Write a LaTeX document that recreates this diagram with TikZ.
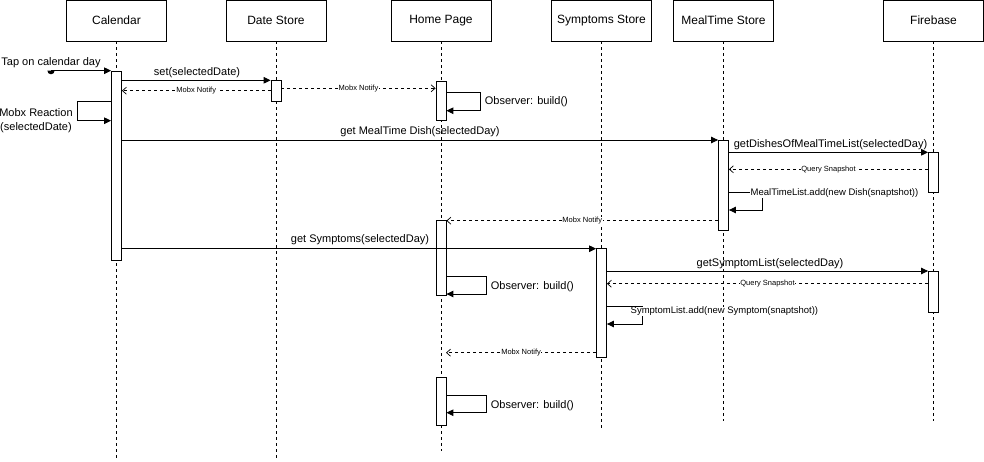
\documentclass[tikz,border=0pt]{standalone}
\usepackage{fontspec}
\setmainfont{Liberation Sans}
\usetikzlibrary{arrows.meta}
\begin{document}
\begin{tikzpicture}[x=1pt,y=-1pt,
  hdr/.style={draw, line width=0.8pt, minimum width=100pt, minimum height=40.5pt, inner sep=0pt, anchor=north, font=\fontsize{12}{14}\selectfont},
  life/.style={line width=0.8pt, dash pattern=on 3pt off 3pt},
  act/.style={draw, fill=white, line width=0.8pt, minimum width=10pt, inner sep=0pt, anchor=north},
  msg/.style={line width=0.9pt, -{Triangle[length=7pt,width=6.5pt]}},
  ret/.style={line width=0.7pt, dash pattern=on 3pt off 3pt, -{Straight Barb[length=4pt,width=7pt]}},
  lbl/.style={inner sep=0pt, font=\fontsize{11}{14}\selectfont},
  addlbl/.style={anchor=west, fill=white, inner sep=0.5pt, font=\fontsize{9.5}{11}\selectfont},
  small/.style={inner sep=0.6pt, fill=white, font=\fontsize{7.5}{9}\selectfont},
]
\useasboundingbox (0,0) rectangle (984,461);
% headers
\node[hdr] (cal) at (116.5,0) {Calendar};
\node[hdr] (ds)  at (276,0) {Date Store};
\node[hdr] (hp)  at (441,0) {Home Page};
\node[hdr] (sp)  at (601.5,0) {Symptoms Store};
\node[hdr] (mt)  at (723.5,0) {MealTime Store};
\node[hdr] (fb)  at (933.5,0) {Firebase};
% lifeline ends
\coordinate (calE) at (116.5,458);
\coordinate (dsE)  at (276,458);
\coordinate (hpE)  at (441,451);
\coordinate (spE)  at (601.5,428);
\coordinate (mtE)  at (723.5,421);
\coordinate (fbE)  at (933.5,421);
\draw[life] (cal.south) -- (calE);
\draw[life] (ds.south) -- (dsE);
\draw[life] (hp.south) -- (hpE);
\draw[life] (sp.south) -- (spE);
\draw[life] (mt.south) -- (mtE);
\draw[life] (fb.south) -- (fbE);
% activations
\node[act, minimum height=189.5pt] (calA) at (116.5,70.7) {};
\node[act, minimum height=20.4pt] (dsA) at (276,80.3) {};
\node[act, minimum height=39.5pt] (hpA1) at (441,80.5) {};
\node[act, minimum height=75pt] (hpA2) at (441,220.3) {};
\node[act, minimum height=48pt] (hpA3) at (441,377.3) {};
\node[act, minimum height=90pt] (mtA) at (723.5,140) {};
\node[act, minimum height=40pt] (fbA1) at (933.5,152.3) {};
\node[act, minimum height=40.7pt] (fbA2) at (933.5,271) {};
\node[act, minimum height=109.5pt] (spA) at (601.5,247.5) {};
% tap
\coordinate (tap) at (51,70.7);
\fill (tap) ++(-3.6,0) arc[start angle=180, end angle=0, radius=3.6] -- cycle;
\draw[msg] (tap) -- (calA.north west);
\node[lbl] (tapL) at (51,62.5) {Tap on calendar day};
% set
\draw[msg] (calA.east |- 0,80.3) -- (dsA.north west);
\node[lbl] (setL) at (197,72.5) {set(selectedDate)};
\draw[ret] (dsA.west |- 0,90.7) -- (calA.east |- 0,90.7) node[small, midway] {Mobx Notify};
\draw[ret] (dsA.east |- 0,88.3) -- (hpA1.west |- 0,88.3) node[small, midway] {Mobx Notify};
% mobx reaction
\coordinate (mr1) at (77,101.7);
\coordinate (mr2) at (77,120.7);
\draw[msg] (calA.west |- mr1) -- (mr1) -- (mr2) -- (calA.west |- mr2);
\node[lbl, align=center] (mrL) at (36,121) {Mobx Reaction\\(selectedDate)};
% observer 1
\coordinate (o1a) at (480.7,92.3);
\coordinate (o1b) at (480.7,110.7);
\draw[msg] (hpA1.east |- o1a) -- (o1a) -- (o1b) -- (hpA1.east |- o1b);
\node[lbl, anchor=west] (o1L) at (484.7,102) {Observer: build()};
% get MealTime Dish
\draw[msg] (calA.east |- 0,140) -- (mtA.north west);
\node[lbl] (gmL) at (420,132) {get MealTime Dish(selectedDay)};
\draw[msg] (mtA.east |- 0,152.3) -- (fbA1.north west);
\node[lbl] (gdL) at (830.5,144.5) {getDishesOfMealTimeList(selectedDay)};
\draw[ret] (fbA1.west |- 0,169.3) -- (mtA.east |- 0,169.3) node[small, midway] {Query Snapshot};
% MealTimeList add
\coordinate (ma1) at (762.7,192.7);
\coordinate (ma2) at (762.7,210);
\draw[msg] (mtA.east |- ma1) -- (ma1) -- (ma2) -- (mtA.east |- ma2);
\node[addlbl] (maL) at (750,193.5) {MealTimeList.add(new Dish(snaptshot))};
\draw[ret] (mtA.west |- 0,220.7) -- (hpA2.east |- 0,220.7) node[small, midway] {Mobx Notify};
% get Symptoms
\draw[msg] (calA.east |- 0,248.7) -- (spA.west |- 0,248.7);
\node[lbl] (gsL) at (360,240) {get Symptoms(selectedDay)};
% observer 2
\coordinate (o2a) at (486.7,276.3);
\coordinate (o2b) at (486.7,294);
\draw[msg] (hpA2.east |- o2a) -- (o2a) -- (o2b) -- (hpA2.east |- o2b);
\node[lbl, anchor=west] (o2L) at (490.7,287) {Observer: build()};
% getSymptomList
\draw[msg] (spA.east |- 0,271) -- (fbA2.north west);
\node[lbl] (gslL) at (770,263.3) {getSymptomList(selectedDay)};
\draw[ret] (fbA2.west |- 0,283.7) -- (spA.east |- 0,283.7) node[small, midway] {Query Snapshot};
% SymptomList add
\coordinate (sa1) at (642.7,306);
\coordinate (sa2) at (642.7,324);
\draw[msg] (spA.east |- sa1) -- (sa1) -- (sa2) -- (spA.east |- sa2);
\node[addlbl] (saL) at (630,311.5) {SymptomList.add(new Symptom(snaptshot))};
% Mobx notify 3
\coordinate (n3) at (446,352.7);
\draw[ret] (spA.west |- n3) -- (n3) node[small, midway] {Mobx Notify};
% observer 3
\coordinate (o3a) at (486.7,395);
\coordinate (o3b) at (486.7,412.7);
\draw[msg] (hpA3.east |- o3a) -- (o3a) -- (o3b) -- (hpA3.east |- o3b);
\node[lbl, anchor=west] (o3L) at (490.7,405.5) {Observer: build()};
\end{tikzpicture}
\end{document}
